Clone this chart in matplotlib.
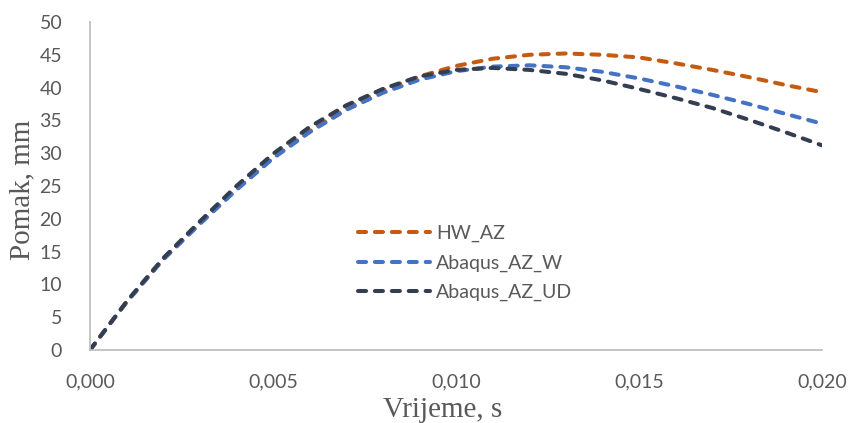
import matplotlib.pyplot as plt
from matplotlib.ticker import FuncFormatter, MultipleLocator

# time, s
vrijeme = [0.000, 0.001, 0.002, 0.003, 0.004, 0.005, 0.006, 0.007, 0.008, 0.009, 0.010,
           0.011, 0.012, 0.013, 0.014, 0.015, 0.016, 0.017, 0.018, 0.019, 0.020]

# displacement, mm
hw_az = [0, 7.3, 13.8, 19.3, 24.5, 29.3, 33.4, 36.9, 39.6, 41.7, 43.3,
         44.4, 45.0, 45.2, 45.0, 44.6, 43.7, 42.7, 41.6, 40.4, 39.3]
abaqus_w = [0, 7.3, 13.8, 19.2, 24.4, 29.2, 33.2, 36.6, 39.2, 41.2, 42.5,
            43.2, 43.4, 43.1, 42.4, 41.4, 40.2, 38.9, 37.5, 36.0, 34.5]
abaqus_ud = [0, 7.4, 14.0, 19.6, 25.0, 29.9, 34.0, 37.3, 39.8, 41.7, 42.7,
             43.0, 42.7, 42.1, 41.1, 39.8, 38.4, 36.9, 35.1, 33.2, 31.2]

series = [('HW_AZ', hw_az, '#C55A11'),
          ('Abaqus_AZ_W', abaqus_w, '#4472C4'),
          ('Abaqus_AZ_UD', abaqus_ud, '#333F50')]

fig = plt.figure(figsize=(8.51, 4.23), dpi=100)
ax = fig.add_axes([90 / 851, 1 - 350 / 423, 732 / 851, 328 / 423])

for name, vals, col in series:
    ln, = ax.plot(vrijeme, vals, color=col, lw=2.9, label=name,
                  dash_capstyle='round', solid_capstyle='round')
    ln.set_dashes((2.0, 2.2))

ax.set_xlim(0, 0.020)
ax.set_ylim(0, 50)
ax.xaxis.set_major_locator(MultipleLocator(0.005))
ax.yaxis.set_major_locator(MultipleLocator(5))
ax.xaxis.set_major_formatter(FuncFormatter(lambda v, p: ('%.3f' % v).replace('.', ',')))

for s in ['top', 'right']:
    ax.spines[s].set_visible(False)
for s in ['left', 'bottom']:
    ax.spines[s].set_color('#BFBFBF')
    ax.spines[s].set_linewidth(1.3)

ax.tick_params(axis='both', length=0, labelsize=14, labelcolor='#595959')
ax.tick_params(axis='y', pad=20)
ax.tick_params(axis='x', pad=17)
for lbl in ax.get_xticklabels() + ax.get_yticklabels():
    lbl.set_family('Lato')

fig.text(443 / 851, 1 - 410 / 423, 'Vrijeme, s', ha='center', va='center',
         fontsize=21, family='Liberation Serif', color='#595959')
fig.text(22 / 851, 1 - 190 / 423, 'Pomak, mm', ha='center', va='center', rotation=90,
         fontsize=21, family='Liberation Serif', color='#595959')

leg = ax.legend(loc='upper left', bbox_to_anchor=(358 / 851, 1 - 225 / 423),
                bbox_transform=fig.transFigure, frameon=False, borderpad=0,
                borderaxespad=0, handlelength=3.7, handletextpad=0.3,
                labelspacing=0.62, prop={'family': 'Lato', 'size': 14})
for t in leg.get_texts():
    t.set_color('#595959')

plt.savefig('out.png', dpi=100)
